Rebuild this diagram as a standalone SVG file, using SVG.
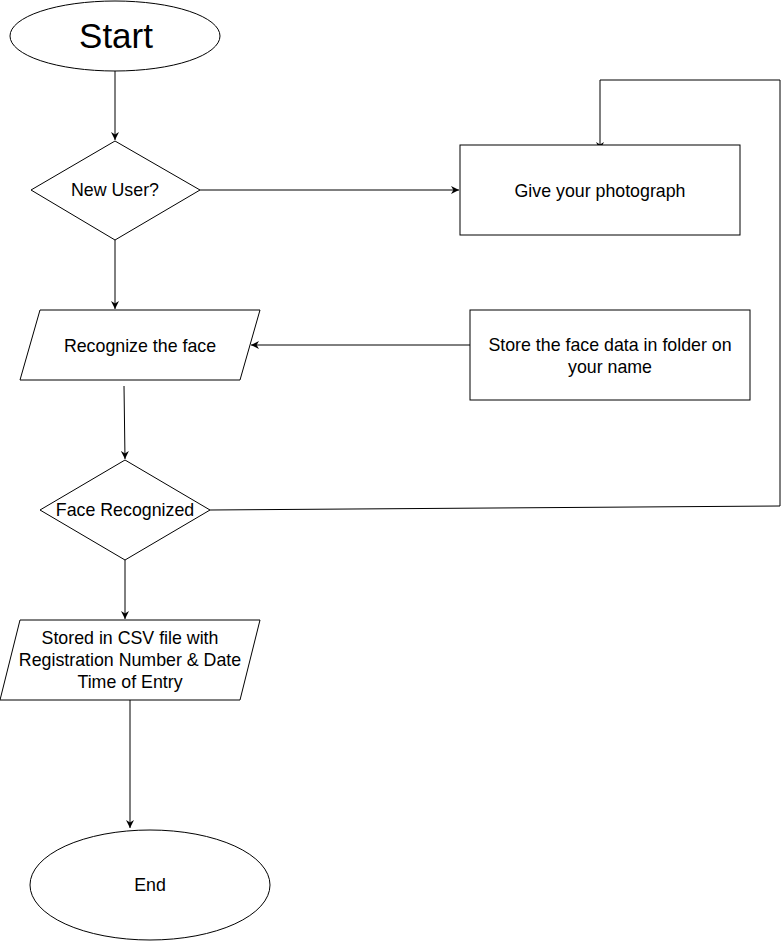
<svg xmlns="http://www.w3.org/2000/svg" width="783" height="942" viewBox="0 0 783 942">
<style>
.s{fill:#fff;stroke:#000;stroke-width:1}
.t{font-family:"Liberation Sans",Arial,sans-serif;font-size:17.8px;fill:#000;text-anchor:middle}
.c{fill:none;stroke:#000;stroke-width:1}
</style>
<defs>
<marker id="a" viewBox="0 0 10 10" refX="10" refY="5" markerWidth="8" markerHeight="8" markerUnits="userSpaceOnUse" orient="auto">
<path d="M0,0 L10,5 L0,10 L3,5 Z" fill="#000"/>
</marker>
</defs>
<rect width="783" height="942" fill="#fff"/>
<g id="connectors">
<path class="c" d="M115,70 V140" marker-end="url(#a)"/>
<path class="c" d="M200,190 H459" marker-end="url(#a)"/>
<path class="c" d="M115,240 V309" marker-end="url(#a)"/>
<path class="c" d="M470,345 H251" marker-end="url(#a)"/>
<path class="c" d="M124,386 L125,459" marker-end="url(#a)"/>
<path class="c" d="M210,510 L780,506 V80 H600 V150" marker-end="url(#a)"/>
<path class="c" d="M125,560 V619" marker-end="url(#a)"/>
<path class="c" d="M130,700 V828" marker-end="url(#a)"/>
</g>
<g id="start">
<ellipse class="s" cx="115" cy="36" rx="105" ry="35"/>
<text class="t" x="116" y="48" style="font-size:35px">Start</text>
</g>
<g id="newuser">
<polygon class="s" points="115,141 200,190 115,240 31,190"/>
<text class="t" x="115" y="196">New User?</text>
</g>
<g id="photo">
<rect class="s" x="460" y="145" width="280" height="90"/>
<text class="t" x="600" y="197">Give your photograph</text>
</g>
<g id="recognize">
<polygon class="s" points="40,310 260,310 240,380 20,380"/>
<text class="t" x="140" y="352">Recognize the face</text>
</g>
<g id="store">
<rect class="s" x="470" y="310" width="280" height="90"/>
<text class="t" x="610" y="351">Store the face data in folder on</text>
<text class="t" x="610" y="373">your name</text>
</g>
<g id="facerec">
<polygon class="s" points="125,460 210,510 125,560 40,510"/>
<text class="t" x="125" y="516">Face Recognized</text>
</g>
<g id="csv">
<polygon class="s" points="20,620 260,620 240,700 0,700"/>
<text class="t" x="130" y="644">Stored in CSV file with</text>
<text class="t" x="130" y="666">Registration Number &amp; Date</text>
<text class="t" x="130" y="688">Time of Entry</text>
</g>
<g id="end">
<ellipse class="s" cx="150" cy="885" rx="120" ry="55"/>
<text class="t" x="150" y="891">End</text>
</g>
</svg>
